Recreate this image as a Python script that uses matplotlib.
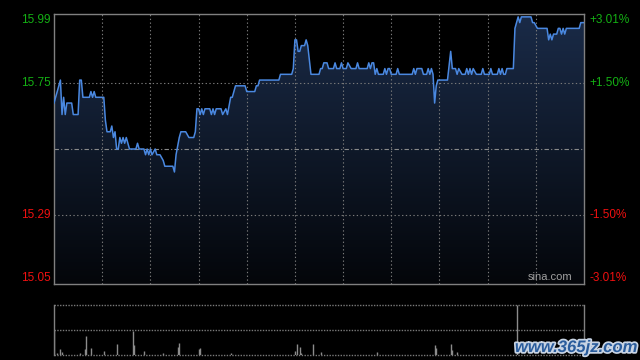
import numpy as np
import matplotlib
matplotlib.use("Agg")
import matplotlib.pyplot as plt
from matplotlib.colors import LinearSegmentedColormap
from matplotlib.patches import Polygon
import matplotlib.patheffects as pe

# intraday price (minute index, price)
minutes = [0, 4, 5, 6, 7, 8, 11, 12, 15, 16, 17, 18, 22, 23, 24, 25, 26, 31, 32, 33,
           35, 36, 37, 38, 39, 40, 41, 42, 43, 44, 45, 46, 47, 51, 52, 53, 56, 57, 58, 59,
           60, 61, 63, 64, 66, 68, 69, 74, 75, 76, 78, 79, 82, 84, 87, 88, 89, 90, 91, 92,
           93, 94, 97, 98, 99, 100, 101, 104, 105, 107, 108, 110, 111, 113, 119, 120, 125, 126, 127, 128,
           140, 141, 148, 149, 150, 151, 152, 153, 154, 156, 157, 158, 160, 165, 166, 167, 168, 170, 171, 174,
           175, 176, 178, 179, 180, 182, 183, 185, 188, 189, 190, 195, 196, 197, 198, 199, 200, 201, 202, 205,
           206, 207, 208, 209, 210, 213, 214, 215, 223, 224, 225, 226, 229, 230, 232, 233, 234, 235, 236, 237,
           238, 239, 245, 247, 248, 250, 251, 252, 254, 256, 257, 258, 259, 260, 261, 263, 266, 267, 268, 271,
           272, 273, 276, 277, 278, 279, 280, 281, 282, 286, 287, 288, 289, 290, 291, 297, 298, 299, 301, 307,
           308, 309, 310, 311, 313, 314, 315, 316, 317, 318, 319, 327, 328, 330]
prices = [15.68, 15.76, 15.64, 15.70, 15.64, 15.68, 15.68, 15.64, 15.64, 15.76, 15.76, 15.70, 15.70, 15.72, 15.70, 15.72, 15.70, 15.70, 15.62, 15.58,
          15.58, 15.60, 15.56, 15.58, 15.52, 15.52, 15.56, 15.54, 15.56, 15.54, 15.56, 15.54, 15.52, 15.52, 15.54, 15.52, 15.52, 15.50, 15.52, 15.50,
          15.52, 15.50, 15.52, 15.50, 15.50, 15.48, 15.46, 15.46, 15.44, 15.50, 15.56, 15.58, 15.58, 15.56, 15.56, 15.58, 15.66, 15.66, 15.64, 15.66,
          15.64, 15.66, 15.66, 15.64, 15.66, 15.64, 15.66, 15.66, 15.64, 15.66, 15.64, 15.70, 15.70, 15.74, 15.74, 15.72, 15.72, 15.74, 15.74, 15.76,
          15.76, 15.78, 15.78, 15.80, 15.90, 15.90, 15.86, 15.86, 15.88, 15.88, 15.90, 15.88, 15.78, 15.78, 15.80, 15.80, 15.82, 15.82, 15.80, 15.80,
          15.82, 15.80, 15.80, 15.82, 15.80, 15.80, 15.82, 15.80, 15.80, 15.82, 15.80, 15.80, 15.82, 15.80, 15.82, 15.82, 15.78, 15.80, 15.78, 15.78,
          15.80, 15.78, 15.80, 15.80, 15.78, 15.78, 15.80, 15.78, 15.78, 15.80, 15.78, 15.80, 15.80, 15.78, 15.78, 15.80, 15.78, 15.80, 15.78, 15.68,
          15.74, 15.76, 15.76, 15.86, 15.80, 15.80, 15.78, 15.80, 15.78, 15.78, 15.80, 15.78, 15.80, 15.78, 15.80, 15.78, 15.78, 15.80, 15.78, 15.78,
          15.80, 15.78, 15.78, 15.80, 15.78, 15.80, 15.78, 15.78, 15.80, 15.80, 15.94, 15.96, 15.98, 15.96, 15.98, 15.98, 15.96, 15.96, 15.94, 15.94,
          15.90, 15.92, 15.90, 15.92, 15.92, 15.94, 15.94, 15.92, 15.94, 15.92, 15.94, 15.94, 15.96, 15.96]

# volume spikes (minute index, relative volume)
vol_minutes = [0, 2, 4, 5, 16, 19, 20, 23, 31, 39, 49, 50, 56, 68, 77, 78, 90, 91, 110,
               150, 151, 153, 154, 161, 166, 201, 237, 238, 247, 248, 251, 288]
vol_values = [51, 5, 12, 7, 5, 12, 38, 15, 8, 22, 49, 20, 8, 5, 17, 24, 12, 14, 4,
              8, 22, 16, 5, 22, 7, 7, 20, 15, 22, 10, 7, 100]

prev_close = 15.52
y_min, y_max = 15.05, 15.99
left_ticks = [15.99, 15.75, 15.29, 15.05]
left_labels = ["15.99", "15.75", "15.29", "15.05"]
right_labels = ["+3.01%", "+1.50%", "-1.50%", "-3.01%"]
tick_colors = ["#14b014", "#14b014", "#f01010", "#f01010"]

fig = plt.figure(figsize=(6.4, 3.6), dpi=100, facecolor="black")
ax = fig.add_axes([54 / 640, 76 / 360, 530 / 640, 270 / 360], facecolor="black")
axv = fig.add_axes([54 / 640, 5 / 360, 530 / 640, 50 / 360], facecolor="black")

grid_c = "#7a7a7a"
dot = (0, (1.2, 2.2))

# gradient fill under the price line
cmap = LinearSegmentedColormap.from_list("fill", ["#04060a", "#1a2b48"])
im = ax.imshow(np.linspace(0, 1, 256)[:, None], extent=[0, 330, y_min, y_max],
               origin="lower", aspect="auto", cmap=cmap, zorder=1)
verts = [(minutes[0], y_min)] + list(zip(minutes, prices)) + [(minutes[-1], y_min)]
clip = Polygon(verts, closed=True, transform=ax.transData, facecolor="none", edgecolor="none")
ax.add_patch(clip)
im.set_clip_path(clip)

# grid
for m in range(30, 330, 30):
    ax.axvline(m, color=grid_c, lw=0.8, ls=dot, zorder=2)
for v in [15.75, 15.29]:
    ax.axhline(v, color=grid_c, lw=0.8, ls=dot, zorder=2)
ax.axhline(prev_close, color="#8a8a8a", lw=0.8, ls=(0, (4, 2, 1, 2)), zorder=2)

ax.plot(minutes, prices, color="#4a88e0", lw=1.1, zorder=3)

ax.set_xlim(0, 330)
ax.set_ylim(y_min, y_max)
ax.set_xticks([])
ax.set_yticks([])
for s in ax.spines.values():
    s.set_color("#808080")
    s.set_linewidth(1)

# price / percent labels
shift = 6 * (y_max - y_min) / 270
for i, (v, lab, rlab, c) in enumerate(zip(left_ticks, left_labels, right_labels, tick_colors)):
    yy = v - shift if i == 0 else (v + shift if i == 3 else v)
    ax.text(-0.006, yy, lab, transform=ax.get_yaxis_transform(), ha="right", va="center",
            color=c, fontsize=8.5, family="Liberation Sans")
    ax.text(1.011, yy, rlab, transform=ax.get_yaxis_transform(), ha="left", va="center",
            color=c, fontsize=8.5, family="Liberation Sans")

ax.text(0.978, 0.008, "sina.com", transform=ax.transAxes, ha="right", va="bottom",
        color="#a0a0a0", fontsize=8, family="Liberation Sans")

# volume panel
axv.vlines(vol_minutes, 0, vol_values, color="#8c8c8c", lw=1)
axv.set_xlim(0, 330)
axv.set_ylim(0, 100)
axv.set_xticks([])
axv.set_yticks([])
for v in [100, 50, 0]:
    axv.axhline(v, color=grid_c, lw=1, ls=(0, (1, 1)), clip_on=False)
axv.spines["top"].set_visible(False)
axv.spines["bottom"].set_visible(False)
for k in ["left", "right"]:
    axv.spines[k].set_color("#808080")
    axv.spines[k].set_linewidth(1)

fig.text(637 / 640, 5 / 360, "www.365jz.com", ha="right", va="bottom", color="#2a5c9c",
         fontsize=12, fontweight="bold", fontstyle="italic", family="Liberation Sans",
         path_effects=[pe.withStroke(linewidth=2.5, foreground="#c8d4e4")])

fig.savefig("out.png", dpi=100, facecolor="black")
